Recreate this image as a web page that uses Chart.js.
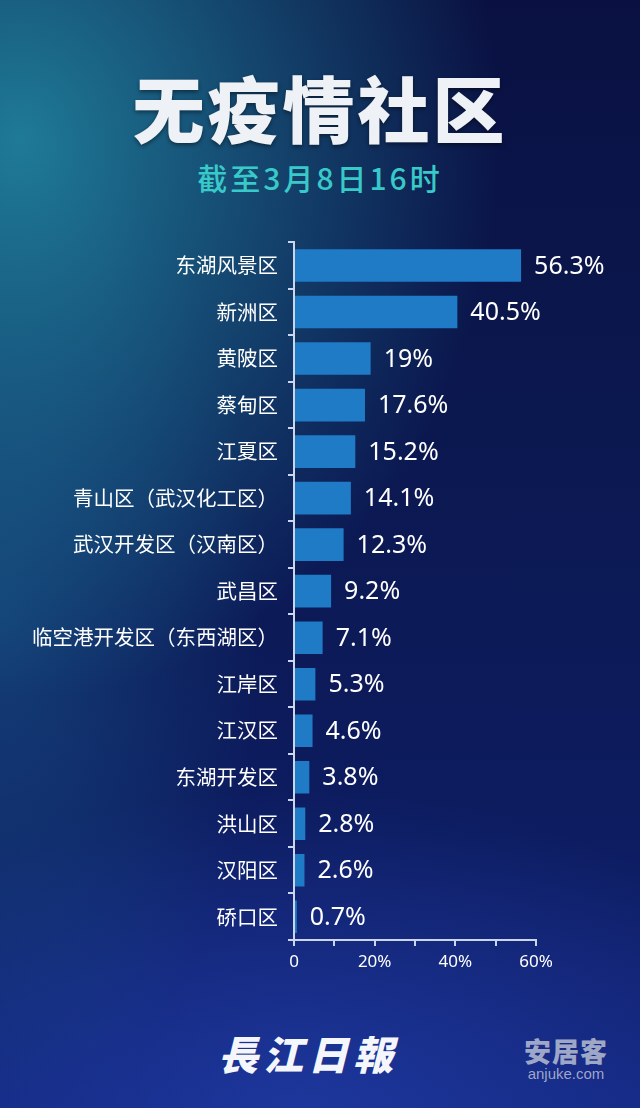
<!DOCTYPE html>
<html>
<head>
<meta charset="utf-8">
<script src="https://cdn.jsdelivr.net/npm/chart.js@4"></script>
<style>
  html, body { margin: 0; padding: 0; }
  body {
    width: 640px; height: 1108px; overflow: hidden; position: relative;
    font-family: "Noto Sans CJK SC", "Noto Sans", sans-serif;
    background:
      radial-gradient(ellipse 480px 560px at 20px 140px, rgba(34,140,165,0.85), rgba(34,140,165,0) 100%),
      radial-gradient(ellipse 260px 520px at 0px 620px, rgba(25,90,140,0.55), rgba(25,90,140,0) 100%),
      radial-gradient(ellipse 520px 320px at 300px 1108px, rgba(35,65,175,0.6), rgba(35,65,175,0) 100%),
      linear-gradient(180deg, #0a1142 0%, #0b1850 40%, #0d1c60 75%, #13267e 100%);
  }
  #title {
    position: absolute; left: 0; top: 64px; width: 640px; text-align: center;
    color: #eef2f7; font-size: 72px; font-weight: 900; letter-spacing: 3px; line-height: 84px;
    text-shadow: 0 2px 4px rgba(0,0,0,0.45);
  }
  #sub {
    position: absolute; left: 0; top: 157px; width: 640px; text-align: center;
    color: #38c9c9; font-size: 30px; font-weight: 500; letter-spacing: 3px; line-height: 40px;
  }
  #logo {
    position: absolute; left: 218px; top: 1024px; color: #f4f6fb;
    font-size: 40px; font-weight: 900; font-style: italic; letter-spacing: 5px;
    font-family: "Noto Sans CJK TC", serif;
  }
  #wm {
    position: absolute; left: 524px; top: 1036px; color: rgba(185,190,212,0.85); text-align: center;
  }
  #wm .a { font-size: 27px; font-weight: 900; line-height: 30px; letter-spacing: 1px; }
  #wm .b { font-size: 15px; font-family: "Liberation Sans", sans-serif; line-height: 16px; }
  #box { position: absolute; left: 0; top: 220px; width: 640px; height: 780px; }
</style>
</head>
<body>
<div id="title">无疫情社区</div>
<div id="sub">截至3月8日16时</div>
<div id="box"><canvas id="myChart1"></canvas></div>
<div id="logo">長江日報</div>
<div id="wm"><div class="a">安居客</div><div class="b">anjuke.com</div></div>
<script>
let districts = ['东湖风景区', '新洲区', '黄陂区', '蔡甸区', '江夏区', '青山区（武汉化工区）', '武汉开发区（汉南区）', '武昌区', '临空港开发区（东西湖区）', '江岸区', '江汉区', '东湖开发区', '洪山区', '汉阳区', '硚口区'];
let percents = [56.3, 40.5, 19, 17.6, 15.2, 14.1, 12.3, 9.2, 7.1, 5.3, 4.6, 3.8, 2.8, 2.6, 0.7];
let xTickLabels = [0, 20, 40, 60];

// value labels at the end of each bar
const valueLabels = {
    id: 'valueLabels',
    afterDatasetsDraw(chart) {
        let c = chart.ctx;
        let meta = chart.getDatasetMeta(0);
        c.save();
        c.fillStyle = '#ffffff';
        c.font = '25px "Noto Sans", "DejaVu Sans", sans-serif';
        c.textBaseline = 'middle';
        c.textAlign = 'left';
        meta.data.forEach((bar, i) => {
            c.fillText(percents[i] + '%', bar.x + 13, bar.y + 1);
        });
        c.restore();
    }
};

let ctx = document.getElementById('myChart1').getContext('2d');
let myChart1 = new Chart(ctx, {
    type: 'bar',
    data: {
        labels: districts,
        datasets: [{
            data: percents,
            backgroundColor: '#1f7bc6',
            borderWidth: 0,
            barPercentage: 0.7,
            categoryPercentage: 1.0
        }]
    },
    plugins: [valueLabels],
    options: {
        indexAxis: 'y',
        responsive: true,
        maintainAspectRatio: false,
        animation: false,
        layout: { padding: { top: 2, right: 104, left: 0, bottom: 0 } },
        plugins: {
            legend: { display: false },
            tooltip: { enabled: false }
        },
        scales: {
            x: {
                min: 0,
                max: 60,
                afterFit: (scale) => { scale.height = 60; },
                border: { color: '#c9d6ee', width: 2 },
                grid: { drawOnChartArea: false, color: '#c9d6ee', lineWidth: 2, tickLength: 6 },
                ticks: {
                    stepSize: 10,
                    autoSkip: false,
                    maxRotation: 0,
                    color: '#ffffff',
                    padding: 6,
                    font: { size: 17, family: '"Noto Sans", "DejaVu Sans", sans-serif' },
                    callback: (v) => xTickLabels.includes(v) ? (v === 0 ? '0' : v + '%') : ''
                }
            },
            y: {
                afterFit: (scale) => { scale.width = 294; },
                border: { color: '#c9d6ee', width: 2 },
                grid: { drawOnChartArea: false, color: '#c9d6ee', lineWidth: 2, tickLength: 6, offset: true },
                ticks: {
                    color: '#ffffff',
                    padding: 10,
                    autoSkip: false,
                    font: { size: 20.5, family: '"Noto Sans CJK SC", sans-serif' }
                }
            }
        }
    }
});
</script>
</body>
</html>
